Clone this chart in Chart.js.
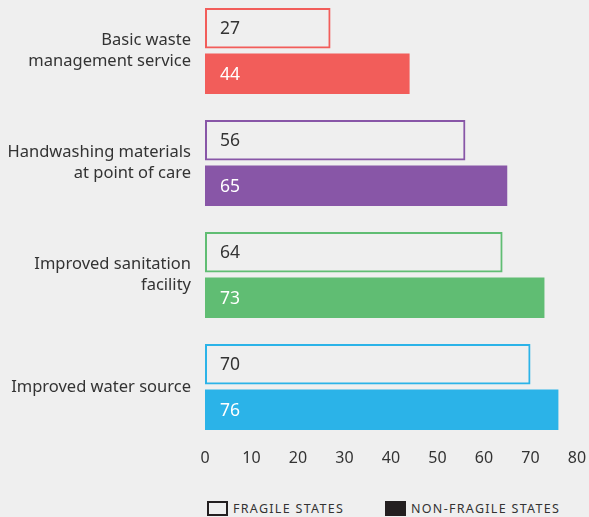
<!DOCTYPE html>
<html>
<head>
<meta charset="utf-8">
<script src="https://cdn.jsdelivr.net/npm/chart.js@4/dist/chart.umd.min.js"></script>
<style>
  html, body { margin: 0; padding: 0; background: #efefef; }
  body { width: 589px; height: 517px; position: relative; overflow: hidden; font-family: "Noto Sans", sans-serif; }
  #wrap { position: absolute; left: 0; top: -5px; width: 589px; height: 478px; }
  .legend { position: absolute; top: 500px; font-size: 12.5px; letter-spacing: 1.3px; color: #333; display: flex; align-items: center; }
  .legend .box { width: 17px; height: 11px; margin-right: 5px; }
</style>
</head>
<body>
<div id="wrap"><canvas id="chart"></canvas></div>
<div class="legend" style="left:207px"><span class="box" style="border:2px solid #231f20"></span>FRAGILE STATES</div>
<div class="legend" style="left:385px"><span class="box" style="width:21px;height:15px;background:#231f20"></span>NON-FRAGILE STATES</div>
<script>
// categories and values
const categories = [
  ['Basic waste', 'management service'],
  ['Handwashing materials', 'at point of care'],
  ['Improved sanitation', 'facility'],
  'Improved water source'
];
const fragile    = [27, 56, 64, 70];
const nonFragile = [44, 65, 73, 76];
const colors     = ['#f25d5a', '#8856a7', '#60bd73', '#2bb3e8'];
const xTicks     = [0, 10, 20, 30, 40, 50, 60, 70, 80];

const valueLabels = {
  id: 'valueLabels',
  afterDatasetsDraw(chart) {
    const ctx = chart.ctx;
    ctx.save();
    ctx.font = '17.5px "Noto Sans"';
    ctx.textBaseline = 'middle';
    ctx.textAlign = 'left';
    chart.data.datasets.forEach((ds, di) => {
      chart.getDatasetMeta(di).data.forEach((bar, i) => {
        ctx.fillStyle = di === 0 ? '#333333' : '#ffffff';
        ctx.fillText(ds.data[i], bar.base + 15, bar.y + 1);
      });
    });
    ctx.restore();
  }
};

new Chart(document.getElementById('chart'), {
  type: 'bar',
  data: {
    labels: categories,
    datasets: [
      {
        label: 'Fragile states', data: fragile,
        backgroundColor: 'rgba(0,0,0,0)', borderColor: colors,
        borderWidth: 2, borderSkipped: false,
        categoryPercentage: 0.8125, barPercentage: 0.89
      },
      {
        label: 'Non-fragile states', data: nonFragile,
        backgroundColor: colors, borderWidth: 0,
        categoryPercentage: 0.8125, barPercentage: 0.89
      }
    ]
  },
  options: {
    indexAxis: 'y', responsive: true, maintainAspectRatio: false, animation: false,
    layout: { padding: { left: 0, right: 12, top: 0, bottom: 0 } },
    plugins: { legend: { display: false }, tooltip: { enabled: false } },
    scales: {
      x: {
        min: 0, max: 80,
        afterBuildTicks: s => { s.ticks = xTicks.map(v => ({ value: v })); },
        afterFit: s => { s.height = 30; s.paddingLeft = 0; s.paddingRight = 0; },
        grid: { display: false, drawTicks: false },
        border: { display: false },
        ticks: { color: '#333', padding: 6, font: { family: 'Noto Sans', size: 16 } }
      },
      y: {
        afterFit: s => { s.width = 205; s.paddingTop = 0; s.paddingBottom = 0; },
        grid: { display: false, drawTicks: false },
        border: { display: false },
        ticks: { color: '#333', padding: 14, font: { family: 'Noto Sans', size: 16.5, lineHeight: 1.28 } }
      }
    }
  },
  plugins: [valueLabels]
});
</script>
</body>
</html>
